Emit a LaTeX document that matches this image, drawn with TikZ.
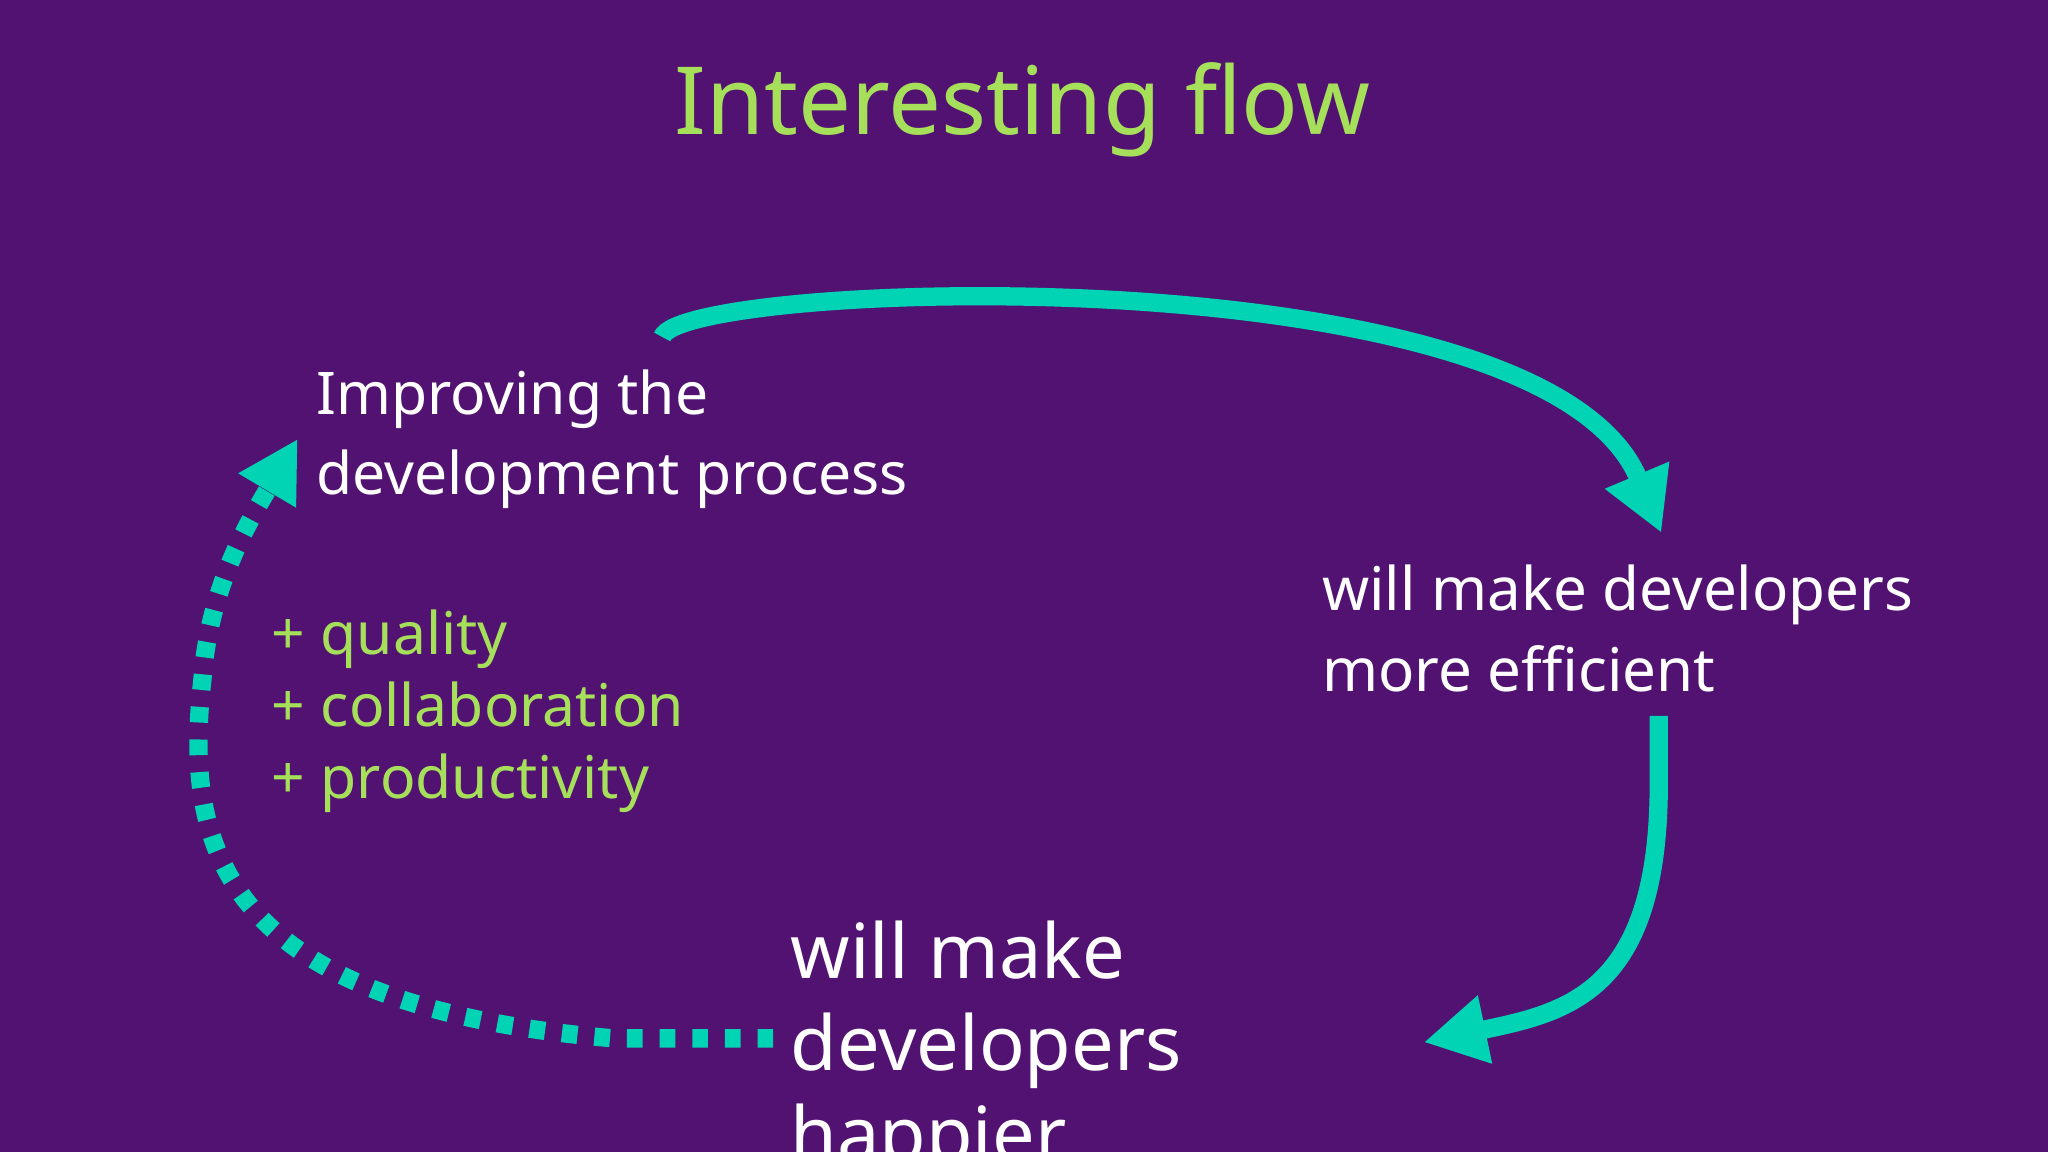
\documentclass[tikz,border=0pt]{standalone}
\usepackage{fontspec}
\setmainfont{Noto Sans}
\usetikzlibrary{arrows.meta}
\definecolor{bg}{HTML}{521272}
\definecolor{lime}{HTML}{A6E05A}
\definecolor{teal}{HTML}{00D4B4}
\begin{document}
\begin{tikzpicture}[x=1pt,y=-1pt,
  body/.style={text=white,anchor=north west,align=left,inner sep=0pt,font=\fontsize{45}{61}\selectfont},
  flow/.style={teal,line width=14pt,-{Triangle[length=48pt,width=50pt]}},
  dotflow/.style={teal,line width=14pt,dash pattern=on 12pt off 13pt,-{Triangle[length=46pt,width=48pt]}}]
\fill[bg] (0,0) rectangle (1568,882);
\useasboundingbox (0,0) rectangle (1568,882);
\node[text=lime,font=\fontsize{72}{80}\selectfont,inner sep=0pt] (title) at (783,84) {Interesting flow};
\node[body] (improve) at (242,283) {Improving the\\development process};
\node[body,text=lime,font=\fontsize{45}{55}\selectfont] (plus) at (208,467) {+ quality\\+ collaboration\\+ productivity};
\node[body,font=\fontsize{46}{62}\selectfont] (eff) at (1012,432) {will make developers\\more efficient};
\node[body,font=\fontsize{58}{70}\selectfont] (happy) at (605,705) {will make\\developers\\happier};
\coordinate (a1) at (507,258);
\coordinate (a2) at (1272,408);
\draw[flow] (a1) .. controls (520,215) and (1180,190) .. (a2);
\coordinate (b1) at (1270,548);
\coordinate (b2) at (1090,798);
\draw[flow] (b1) -- (1270,600) .. controls (1270,760) and (1200,775) .. (b2);
\coordinate (c1) at (592,795);
\coordinate (c2) at (228,336);
\draw[dotflow] (c1) -- (470,795) .. controls (170,770) and (140,650) .. (155,520) .. controls (160,450) and (190,400) .. (c2);
\end{tikzpicture}
\end{document}
